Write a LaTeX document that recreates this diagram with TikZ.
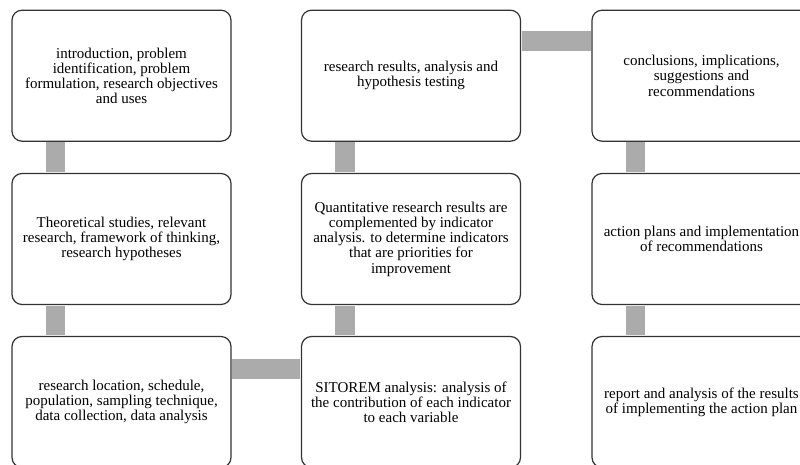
\documentclass[tikz,border=0pt]{standalone}
\usepackage{fontspec}
\setmainfont{Liberation Serif}
\begin{document}
\begin{tikzpicture}[x=1pt,y=1pt,
  box/.style={draw=black!80, line width=1.2pt, rounded corners=10pt, fill=white,
    minimum width=219pt, minimum height=131pt, inner sep=0pt, align=center,
    font=\fontsize{15}{15.2}\selectfont},
  conn/.style={draw=black!33, line width=19.5pt}]
\useasboundingbox (0,0) rectangle (800,-464);
\clip (0,0) rectangle (800,-464);
\node[box] (b1) at (121.5,-75.7) {introduction, problem\\identification, problem\\formulation, research objectives\\and uses};
\node[box] (b2) at (411,-75.7) {research results, analysis and\\hypothesis testing};
\node[box] (b3) at (701.5,-75.7) {conclusions, implications,\\suggestions and\\recommendations};
\node[box] (b4) at (121.5,-239) {Theoretical studies, relevant\\research, framework of thinking,\\research hypotheses};
\node[box] (b5) at (411,-239) {Quantitative research results are\\complemented by indicator\\analysis. to determine indicators\\that are priorities for\\improvement};
\node[box] (b6) at (701.5,-239) {action plans and implementation\\of recommendations};
\node[box] (b7) at (121.5,-402) {research location, schedule,\\population, sampling technique,\\data collection, data analysis};
\node[box] (b8) at (411,-402) {SITOREM analysis: analysis of\\the contribution of each indicator\\to each variable};
\node[box] (b9) at (701.5,-402) {report and analysis of the results\\of implementing the action plan};
\draw[conn] ([xshift=44pt,yshift=-0.6pt]b1.south west) -- ([xshift=44pt,yshift=0.6pt]b4.north west);
\draw[conn] ([xshift=44pt,yshift=-0.6pt]b4.south west) -- ([xshift=44pt,yshift=0.6pt]b7.north west);
\draw[conn] ([xshift=0.6pt,yshift=-33pt]b7.north east) -- ([xshift=-0.6pt,yshift=-33pt]b8.north west);
\draw[conn] ([xshift=44pt,yshift=0.6pt]b8.north west) -- ([xshift=44pt,yshift=-0.6pt]b5.south west);
\draw[conn] ([xshift=44pt,yshift=0.6pt]b5.north west) -- ([xshift=44pt,yshift=-0.6pt]b2.south west);
\draw[conn] ([xshift=0.6pt,yshift=-31.5pt]b2.north east) -- ([xshift=-0.6pt,yshift=-31.5pt]b3.north west);
\draw[conn] ([xshift=44pt,yshift=-0.6pt]b3.south west) -- ([xshift=44pt,yshift=0.6pt]b6.north west);
\draw[conn] ([xshift=44pt,yshift=-0.6pt]b6.south west) -- ([xshift=44pt,yshift=0.6pt]b9.north west);
\end{tikzpicture}
\end{document}
